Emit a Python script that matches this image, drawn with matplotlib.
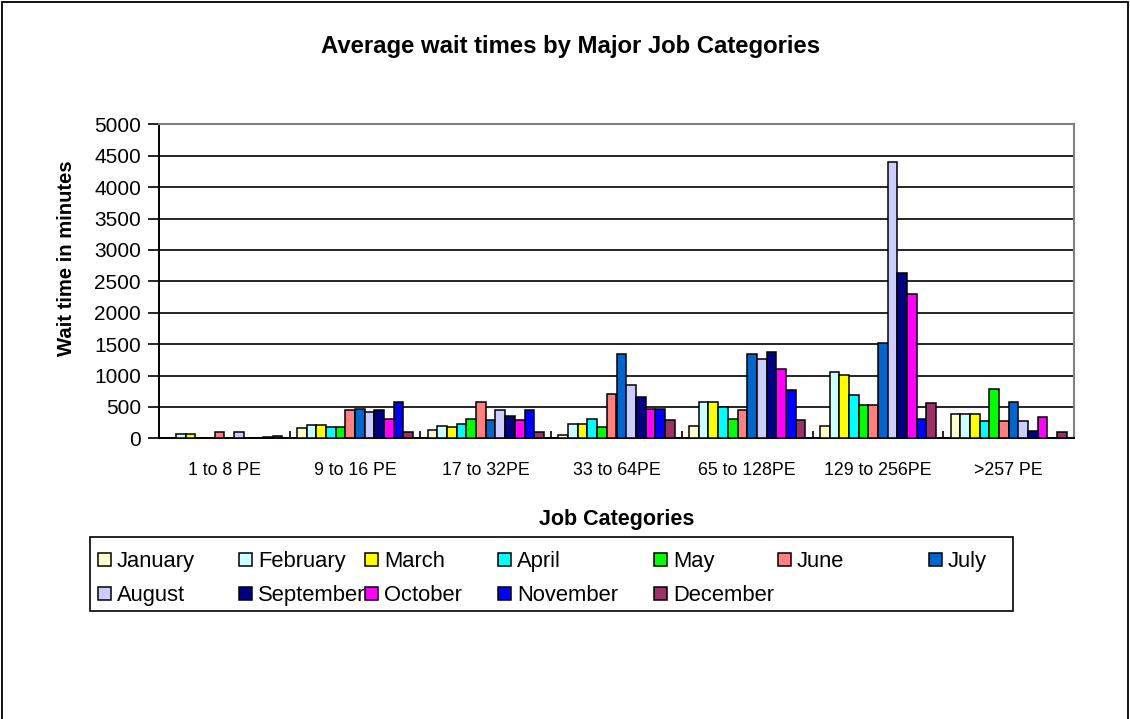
import matplotlib
matplotlib.use("Agg")
import matplotlib.pyplot as plt
from matplotlib.patches import Rectangle
import numpy as np

plt.rcParams['font.family'] = ['Liberation Sans', 'DejaVu Sans']

categories = ["1 to 8 PE", "9 to 16 PE", "17 to 32PE", "33 to 64PE",
              "65 to 128PE", "129 to 256PE", ">257 PE"]
months = ["January", "February", "March", "April", "May", "June", "July",
          "August", "September", "October", "November", "December"]

january = [10, 165, 127, 53, 191, 191, 383]
february = [70, 218, 190, 222, 573, 1053, 383]
march = [70, 218, 185, 222, 573, 1010, 383]
april = [10, 180, 222, 307, 498, 691, 271]
may = [10, 180, 313, 175, 312, 527, 787]
june = [100, 452, 580, 700, 450, 527, 271]
july = [10, 468, 286, 1336, 1336, 1525, 574]
august = [100, 414, 445, 848, 1266, 4398, 271]
september = [10, 445, 355, 662, 1368, 2638, 121]
october = [10, 313, 286, 466, 1107, 2292, 345]
november = [15, 580, 445, 466, 763, 313, 0]
december = [37, 100, 100, 286, 291, 563, 96]

series = [january, february, march, april, may, june, july,
          august, september, october, november, december]
colors = ["#FFFFCC", "#CCFFFF", "#FFFF00", "#00FFFF", "#00FF00", "#FF8080",
          "#0066CC", "#CCCCFF", "#000080", "#FF00FF", "#0000FF", "#993366"]

W, H = 1130, 719
fig = plt.figure(figsize=(W / 100, H / 100), dpi=100)
fig.patch.set_facecolor("white")

# outer chart frame
fig.add_artist(Rectangle((1.5 / W, -0.05), (W - 4) / W, 1.05 - 1.5 / H,
                         transform=fig.transFigure, fill=False,
                         edgecolor="black", linewidth=1.3))

left, right, top, bottom = 159, 1074, 124.3, 438.3
ax = fig.add_axes([left / W, 1 - bottom / H, (right - left) / W, (bottom - top) / H])

n = len(series)
bar_w = 1.0 / (n + 1.5)
x = np.arange(len(categories))
for j, (vals, col) in enumerate(zip(series, colors)):
    ax.bar(x + (j - (n - 1) / 2) * bar_w, vals, width=bar_w, color=col,
           edgecolor="black", linewidth=1.1, zorder=3, label=months[j])

ax.set_xlim(-0.5, len(categories) - 0.5)
ax.set_ylim(0, 5000)
ax.set_yticks(np.arange(0, 5001, 500))
ax.yaxis.grid(True, color="black", linewidth=1.2, zorder=0)
ax.tick_params(axis="y", direction="out", length=8, width=1.2, pad=5,
               labelsize=15)

# category boundaries as inward ticks, labels at group centres
ax.set_xticks(np.arange(-0.5, len(categories), 1.0))
ax.set_xticklabels([])
ax.tick_params(axis="x", which="major", direction="in", length=5, width=1.2)
ax.set_xticks(x, minor=True)
ax.set_xticklabels(categories, minor=True, fontsize=12.8)
ax.tick_params(axis="x", which="minor", length=0, pad=17)

for side in ("top", "right"):
    ax.spines[side].set_color("#808080")
    ax.spines[side].set_linewidth(1.5)
for side in ("left", "bottom"):
    ax.spines[side].set_color("black")
    ax.spines[side].set_linewidth(1.4)

fig.text(571 / W, 1 - 47 / H, "Average wait times by Major Job Categories",
         ha="center", va="center", fontsize=17.2, fontweight="bold")
fig.text(67 / W, 1 - 258 / H, "Wait time in minutes", rotation=90,
         ha="center", va="center", fontsize=14.6, fontweight="bold")
fig.text(617 / W, 1 - 520 / H, "Job Categories",
         ha="center", va="center", fontsize=15.5, fontweight="bold")

# legend panel
lx0, lx1, ly0, ly1 = 90, 1013, 537, 611
fig.add_artist(Rectangle((lx0 / W, 1 - ly1 / H), (lx1 - lx0) / W, (ly1 - ly0) / H,
                         transform=fig.transFigure, fill=False,
                         edgecolor="black", linewidth=1.2))
col_left = [98, 239, 365, 498, 654, 778, 929]
row_y = [559, 593]
sq = 13
for k, (name, col) in enumerate(zip(months, colors)):
    r, c = divmod(k, 7)
    mx, my = col_left[c], row_y[r]
    fig.add_artist(Rectangle((mx / W, 1 - (my + sq / 2) / H),
                             sq / W, sq / H, transform=fig.transFigure,
                             facecolor=col, edgecolor="black", linewidth=1.1))
    fig.text((mx + sq + 6) / W, 1 - (my + 8) / H, name,
             ha="left", va="baseline", fontsize=15.8)

fig.savefig("out.png", dpi=100, facecolor="white")
